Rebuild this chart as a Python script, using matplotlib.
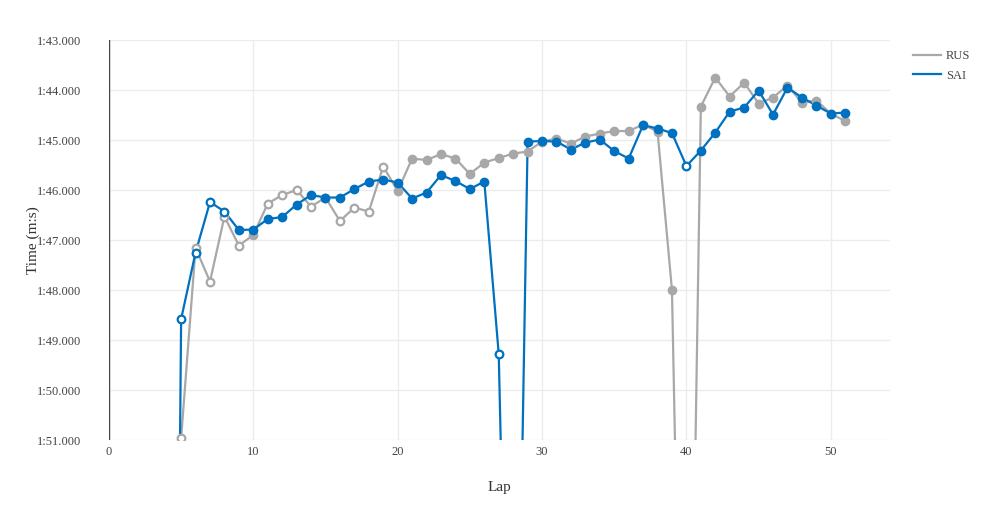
import numpy as np
import matplotlib.pyplot as plt
from matplotlib.ticker import FuncFormatter, MultipleLocator

laps = list(range(1, 52))

# lap times in seconds (laps 1-4 behind the safety car, off the chart)
rus_times = [140.0, 140.0, 140.0, 140.0,
             110.96, 107.16, 107.83, 106.53, 107.11, 106.90,
             106.27, 106.10, 106.00, 106.33, 106.15, 106.62, 106.35, 106.43, 105.53, 106.02,
             105.37, 105.40, 105.28, 105.37, 105.68, 105.45, 105.36, 105.27, 105.23, 105.03,
             104.97, 105.07, 104.93, 104.87, 104.82, 104.82, 104.69, 104.83, 108.00, 122.5,
             104.33, 103.75, 104.13, 103.85, 104.27, 104.15, 103.91, 104.25, 104.21, 104.47,
             104.62]
rus_open = [0, 0, 0, 0,
            1, 1, 1, 1, 1, 0,
            1, 1, 1, 1, 1, 1, 1, 1, 1, 0,
            0, 0, 0, 0, 0, 0, 0, 0, 0, 0,
            0, 0, 0, 0, 0, 0, 0, 0, 0, 0,
            0, 0, 0, 0, 0, 0, 0, 0, 0, 0,
            0]

sai_times = [140.0, 140.0, 140.0, 140.0,
             108.58, 107.25, 106.24, 106.43, 106.80, 106.79,
             106.58, 106.54, 106.29, 106.10, 106.15, 106.15, 105.98, 105.83, 105.79, 105.85,
             106.17, 106.05, 105.70, 105.82, 105.98, 105.83, 109.28, 122.0, 105.03, 105.02,
             105.03, 105.19, 105.05, 104.99, 105.22, 105.37, 104.70, 104.77, 104.86, 105.52,
             105.21, 104.85, 104.43, 104.35, 104.01, 104.49, 103.95, 104.15, 104.31, 104.47,
             104.45]
sai_open = [0, 0, 0, 0,
            1, 1, 1, 1, 0, 0,
            0, 0, 0, 0, 0, 0, 0, 0, 0, 0,
            0, 0, 0, 0, 0, 0, 1, 0, 0, 0,
            0, 0, 0, 0, 0, 0, 0, 0, 0, 1,
            0, 0, 0, 0, 0, 0, 0, 0, 0, 0,
            0]

drivers = ['RUS', 'SAI']
colors = {'RUS': '#a8a8a8', 'SAI': '#0070c0'}


def fmt_time(v, pos):
    m = int(v // 60)
    s = v - m * 60
    return '%d:%06.3f' % (m, s)


plt.rcParams['font.family'] = ['Liberation Serif', 'DejaVu Serif']

fig = plt.figure(figsize=(9.86, 5.2), dpi=100)
ax = fig.add_axes([0.1105, 0.1538, 0.7921, 0.7692])

for drv, t, op in [('RUS', rus_times, rus_open), ('SAI', sai_times, sai_open)]:
    x = np.array(laps)
    y = np.array(t)
    op = np.array(op, bool)
    c = colors[drv]
    ax.plot(x, y, color=c, lw=1.6, label=drv, zorder=3)
    ax.plot(x[~op], y[~op], 'o', color=c, ms=6, zorder=4)
    ax.plot(x[op], y[op], 'o', mfc='white', mec=c, mew=1.6, ms=5.5, zorder=4)

ax.set_xlim(0, 54.1)
ax.set_ylim(111, 103)
ax.xaxis.set_major_locator(MultipleLocator(10))
ax.yaxis.set_major_locator(MultipleLocator(1))
ax.yaxis.set_major_formatter(FuncFormatter(fmt_time))

ax.grid(True, color='#ececec', lw=1)
ax.set_axisbelow(True)
for s in ax.spines.values():
    s.set_visible(False)
ax.axvline(0, color='#444444', lw=1, zorder=2)
ax.tick_params(length=0, labelsize=9, colors='#444444')
ax.tick_params(axis='y', pad=20)
ax.tick_params(axis='x', pad=4)

ax.set_xlabel('Lap', fontsize=11, color='#333333', labelpad=17)
ax.set_ylabel('Time (m:s)', fontsize=11, color='#333333', labelpad=-2)

fig.legend(loc='upper left', bbox_to_anchor=(0.915, 0.925), frameon=False,
           fontsize=9, handlelength=2.2, labelspacing=0.6, handletextpad=0.4,
           labelcolor='#444444')

fig.savefig('out.png', dpi=100)
